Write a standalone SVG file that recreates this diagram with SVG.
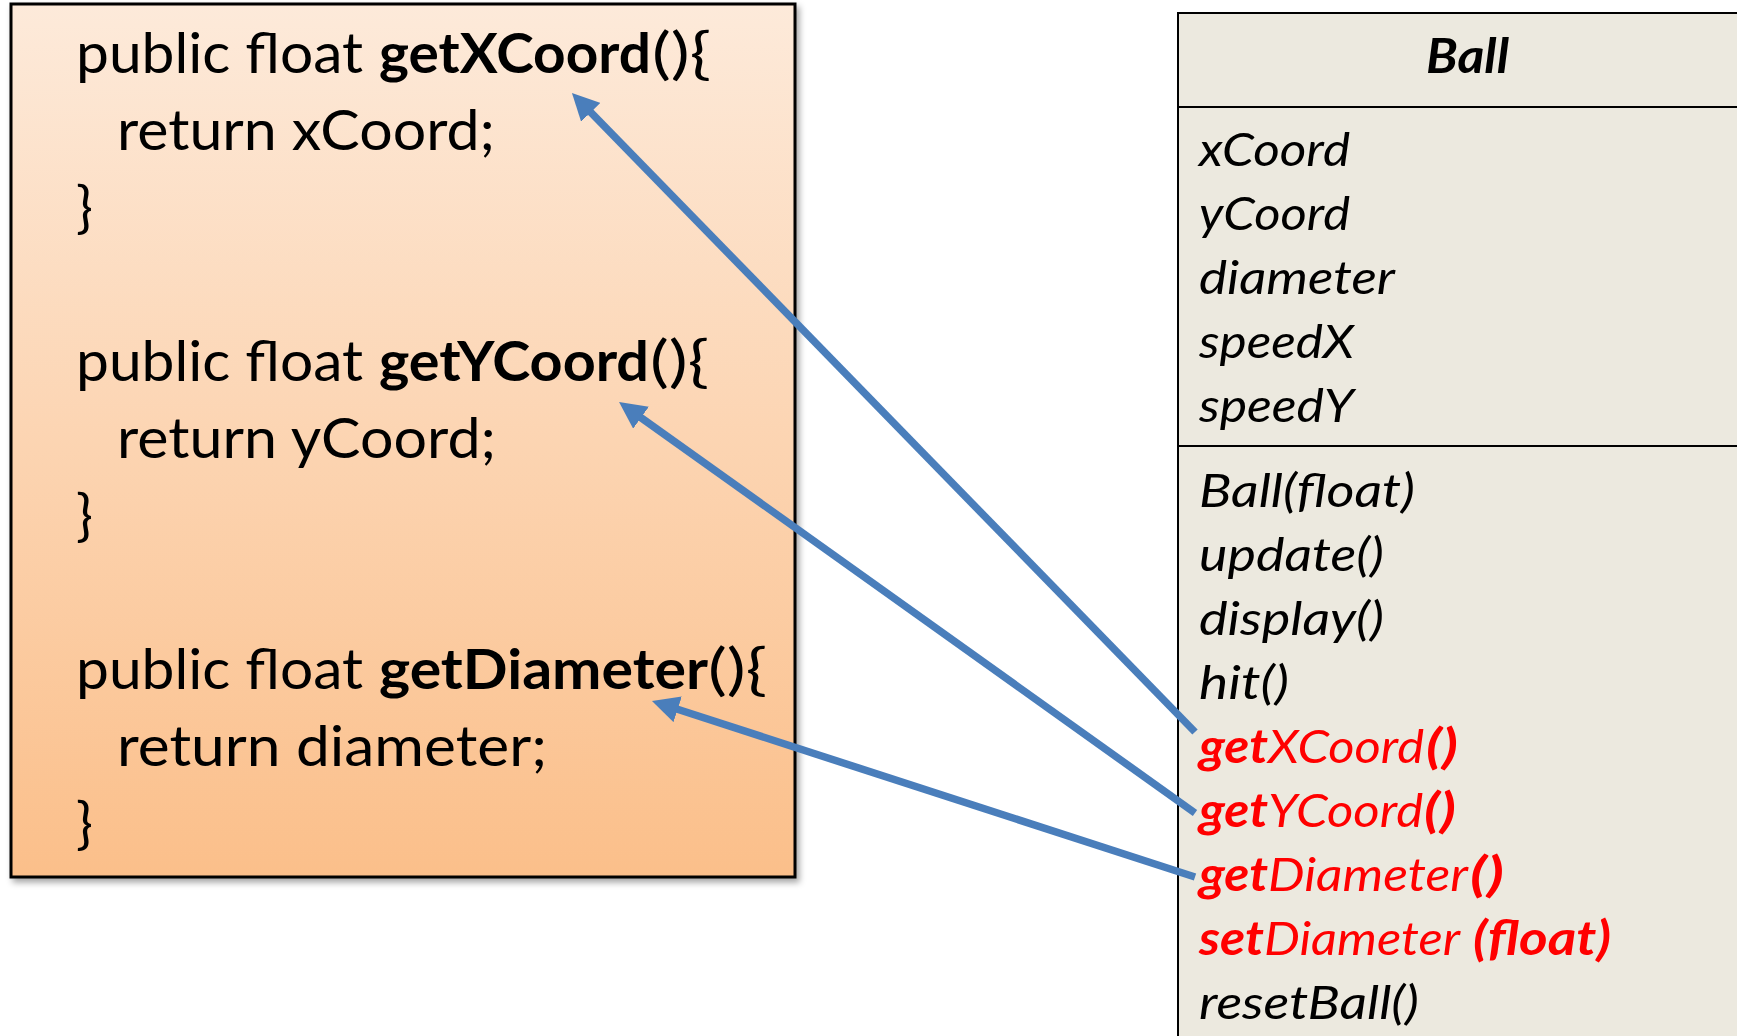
<svg xmlns="http://www.w3.org/2000/svg" width="1737" height="1036" viewBox="0 0 1737 1036">
  <defs>
    <linearGradient id="peach" x1="0" y1="0" x2="0" y2="1">
      <stop offset="0" stop-color="#FDEADA"/>
      <stop offset="1" stop-color="#FBBF8A"/>
    </linearGradient>
    <filter id="shadow" x="-5%" y="-5%" width="115%" height="115%">
      <feDropShadow dx="3" dy="4" stdDeviation="3" flood-color="#000" flood-opacity="0.35"/>
    </filter>
    <marker id="head" markerUnits="userSpaceOnUse" viewBox="0 0 27 27" markerWidth="27" markerHeight="27" refX="1" refY="13.5" orient="auto">
      <path d="M0,0 L27,13.5 L0,27 z" fill="#4A7EBB"/>
    </marker>
    <style>
      .code { font-family: Lato, "Open Sans", "Liberation Sans", sans-serif; font-size: 56px; fill: #000; }
      .b { font-weight: bold; }
      .uml { font-family: Lato, "Open Sans", "Liberation Sans", sans-serif; font-size: 47px; font-style: italic; fill: #000; }
      .red { fill: #FF0000; }
      .conn { stroke: #4A7EBB; stroke-width: 7.5; fill: none; marker-end: url(#head); }
    </style>
  </defs>

  <rect width="1737" height="1036" fill="#FFFFFF"/>

  <g id="code-box">
    <rect x="11" y="4" width="784" height="873" fill="url(#peach)" stroke="#000" stroke-width="3" filter="url(#shadow)"/>
    <text class="code" y="73"><tspan x="76" textLength="287" lengthAdjust="spacingAndGlyphs">public float</tspan><tspan class="b" x="379" textLength="272" lengthAdjust="spacingAndGlyphs">getXCoord</tspan><tspan x="652" textLength="59" lengthAdjust="spacingAndGlyphs">(){</tspan></text>
    <text class="code" x="117" y="150" textLength="378" lengthAdjust="spacingAndGlyphs">return xCoord;</text>
    <text class="code" x="76" y="227">}</text>
    <text class="code" y="381"><tspan x="76" textLength="287" lengthAdjust="spacingAndGlyphs">public float</tspan><tspan class="b" x="379" textLength="270" lengthAdjust="spacingAndGlyphs">getYCoord</tspan><tspan x="650" textLength="59" lengthAdjust="spacingAndGlyphs">(){</tspan></text>
    <text class="code" x="117" y="458" textLength="379" lengthAdjust="spacingAndGlyphs">return yCoord;</text>
    <text class="code" x="76" y="535">}</text>
    <text class="code" y="689"><tspan x="76" textLength="287" lengthAdjust="spacingAndGlyphs">public float</tspan><tspan class="b" x="379" textLength="329" lengthAdjust="spacingAndGlyphs">getDiameter</tspan><tspan x="708" textLength="59" lengthAdjust="spacingAndGlyphs">(){</tspan></text>
    <text class="code" x="117" y="766" textLength="430" lengthAdjust="spacingAndGlyphs">return diameter;</text>
    <text class="code" x="76" y="843">}</text>
  </g>

  <g id="ball-class">
    <rect x="1178" y="13" width="620" height="1060" fill="#ECE9DF" stroke="#000" stroke-width="2"/>
    <line x1="1178" y1="107" x2="1737" y2="107" stroke="#000" stroke-width="2"/>
    <line x1="1178" y1="446" x2="1737" y2="446" stroke="#000" stroke-width="2"/>
    <text class="uml b" x="1426" y="73" textLength="83" lengthAdjust="spacingAndGlyphs">Ball</text>
    <text class="uml" x="1199" y="166" textLength="151" lengthAdjust="spacingAndGlyphs">xCoord</text>
    <text class="uml" x="1199" y="230" textLength="151" lengthAdjust="spacingAndGlyphs">yCoord</text>
    <text class="uml" x="1199" y="294" textLength="196" lengthAdjust="spacingAndGlyphs">diameter</text>
    <text class="uml" x="1199" y="358" textLength="155" lengthAdjust="spacingAndGlyphs">speedX</text>
    <text class="uml" x="1199" y="422" textLength="155" lengthAdjust="spacingAndGlyphs">speedY</text>
    <text class="uml" x="1199" y="507" textLength="216" lengthAdjust="spacingAndGlyphs">Ball(float)</text>
    <text class="uml" x="1199" y="571" textLength="185" lengthAdjust="spacingAndGlyphs">update()</text>
    <text class="uml" x="1199" y="635" textLength="185" lengthAdjust="spacingAndGlyphs">display()</text>
    <text class="uml" x="1199" y="699" textLength="90" lengthAdjust="spacingAndGlyphs">hit()</text>
    <text class="uml red" y="763"><tspan class="b" x="1199" textLength="69" lengthAdjust="spacingAndGlyphs">get</tspan><tspan x="1268" textLength="156" lengthAdjust="spacingAndGlyphs">XCoord</tspan><tspan class="b" x="1426" textLength="32" lengthAdjust="spacingAndGlyphs">()</tspan></text>
    <text class="uml red" y="827"><tspan class="b" x="1199" textLength="69" lengthAdjust="spacingAndGlyphs">get</tspan><tspan x="1268" textLength="155" lengthAdjust="spacingAndGlyphs">YCoord</tspan><tspan class="b" x="1424" textLength="32" lengthAdjust="spacingAndGlyphs">()</tspan></text>
    <text class="uml red" y="891"><tspan class="b" x="1199" textLength="69" lengthAdjust="spacingAndGlyphs">get</tspan><tspan x="1268" textLength="200" lengthAdjust="spacingAndGlyphs">Diameter</tspan><tspan class="b" x="1470" textLength="34" lengthAdjust="spacingAndGlyphs">()</tspan></text>
    <text class="uml red" y="955"><tspan class="b" x="1199" textLength="65" lengthAdjust="spacingAndGlyphs">set</tspan><tspan x="1264" textLength="196" lengthAdjust="spacingAndGlyphs">Diameter</tspan><tspan class="b" x="1473" textLength="138" lengthAdjust="spacingAndGlyphs">(float)</tspan></text>
    <text class="uml" x="1199" y="1019" textLength="220" lengthAdjust="spacingAndGlyphs">resetBall()</text>
  </g>

  <g id="connectors">
    <line class="conn" x1="1195" y1="732" x2="590.1" y2="111.6"/>
    <line class="conn" x1="1195" y1="813" x2="640.2" y2="417.1"/>
    <line class="conn" x1="1195" y1="877" x2="676.7" y2="709.0"/>
  </g>
</svg>
